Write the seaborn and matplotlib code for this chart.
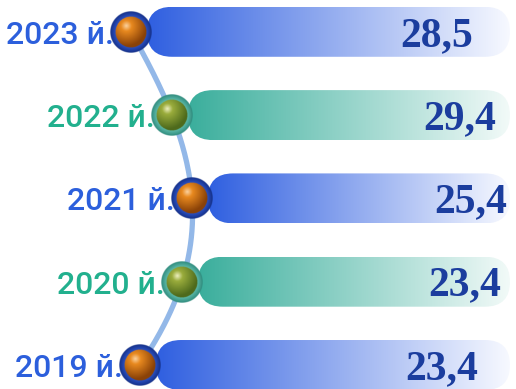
import numpy as np
import pandas as pd
import matplotlib
matplotlib.use("Agg")
import matplotlib.pyplot as plt
import matplotlib.transforms as mtransforms
from matplotlib.patches import FancyBboxPatch
from matplotlib.colors import to_rgb
import seaborn as sns

# ---- data ----
years = ["2023 й.", "2022 й.", "2021 й.", "2020 й.", "2019 й."]
values = [28.5, 29.4, 25.4, 23.4, 23.4]
value_labels = ["28,5", "29,4", "25,4", "23,4", "23,4"]
kinds = ["blue", "teal", "blue", "teal", "blue"]

# ---- layout / styles ----
node_x = [131, 172, 192, 182, 140]          # sphere centres (px)
W, H = 516, 389
PX_PER_CAT = 83.3
TOP_OFFSET = 31.8
bar_color = {"blue": "#2f5fe0", "teal": "#3aae9c"}
label_color = {"blue": "#2c5fdc", "teal": "#22b08e"}
sphere_core = {"blue": ("#fbd2a0", "#e8891f", "#8a4208"),
               "teal": ("#eef0c0", "#9aac3c", "#4e6a1c")}
ring_color = {"blue": ("#2a4fc0", "#142f86"), "teal": ("#5cb8a8", "#2e8a7c")}
value_color = "#1b3d9e"

sns.set_theme(style="white")
plt.rcParams["font.family"] = ["Roboto", "DejaVu Sans"]

fig = plt.figure(figsize=(W / 100, H / 100), dpi=100)
ax = fig.add_axes([0, 0, 1, 1])

df = pd.DataFrame({"year": years, "value": values})
sns.barplot(data=df, y="year", x="value", orient="h", width=0.6,
            color=bar_color["blue"], ax=ax)

ax.set_xlim(0, W)
ax.set_ylim((H - TOP_OFFSET) / PX_PER_CAT, -TOP_OFFSET / PX_PER_CAT)
ax.axis("off")

cat_per_px = 1.0 / PX_PER_CAT
aspect = cat_per_px

patches = list(ax.patches)
ycent = []
for i, p in enumerate(patches):
    y0, h = p.get_y(), p.get_height()
    yc = y0 + h / 2
    ycent.append(yc)
    p.set_visible(False)
    left = node_x[i] + 16
    right = W - 6
    box = FancyBboxPatch((left, y0), right - left, h,
                         boxstyle=f"round,pad=0,rounding_size={h / 2 / aspect:.3f}",
                         mutation_aspect=aspect, transform=ax.transData,
                         facecolor="none", edgecolor="none")
    ax.add_patch(box)
    c0 = np.array(to_rgb(bar_color[kinds[i]]))
    c1 = np.array(to_rgb("#f7f9ff" if kinds[i] == "blue" else "#f2faf8"))
    t = np.linspace(0, 1, 256)[None, :, None]
    grad = c0 * (1 - t) + c1 * t
    im = ax.imshow(grad, extent=(left, right, y0 + h, y0), origin="upper",
                   aspect="auto", zorder=2, interpolation="bilinear")
    im.set_clip_path(box)

ycent = np.array(ycent)

coef = np.polyfit(ycent, node_x, 4)
yy = np.linspace(ycent[0], ycent[-1], 200)
ax.plot(np.polyval(coef, yy), yy, color="#93b8e8", lw=3.8, zorder=3,
        solid_capstyle="round")


def sphere_image(kind, n=120):
    yy_, xx_ = np.mgrid[-1:1:n * 1j, -1:1:n * 1j]
    r = np.sqrt(xx_ ** 2 + yy_ ** 2)
    img = np.zeros((n, n, 4))
    ring_in = 0.74
    rl, rd = [np.array(to_rgb(c)) for c in ring_color[kind]]
    tr = np.clip((r - ring_in) / (1 - ring_in), 0, 1)[..., None]
    ring = rl * (1 - tr) + rd * tr
    hl, mid, dk = [np.array(to_rgb(c)) for c in sphere_core[kind]]
    d = np.sqrt((xx_ + 0.22) ** 2 + (yy_ + 0.3) ** 2) / ring_in
    d = np.clip(d, 0, 1.3)[..., None]
    core = np.where(d < 0.35, hl * (1 - d / 0.35) + mid * (d / 0.35),
                    mid * (1 - np.clip((d - 0.35) / 0.95, 0, 1)) +
                    dk * np.clip((d - 0.35) / 0.95, 0, 1))
    inside = (r <= ring_in)[..., None]
    img[..., :3] = np.where(inside, core, ring)
    img[..., 3] = np.clip((1 - r) * n / 2, 0, 1)
    return img


R = 21
for i in range(len(years)):
    sx, sy = node_x[i], ycent[i]
    ax.imshow(sphere_image(kinds[i]),
              extent=(sx - R, sx + R, sy + R * cat_per_px, sy - R * cat_per_px),
              origin="upper", aspect="auto", zorder=5, interpolation="bilinear")

lab_tr = mtransforms.offset_copy(ax.transData, fig=fig, x=0, y=-12, units="dots")
val_tr = mtransforms.offset_copy(ax.transData, fig=fig, x=0, y=-14, units="dots")
for i in range(len(years)):
    ax.text(node_x[i] - 17, ycent[i], years[i], ha="right", va="baseline",
            fontsize=23, fontweight=500, family=["Roboto", "DejaVu Sans"],
            color=label_color[kinds[i]], transform=lab_tr, zorder=4)
    ax.text(365 + 0.55 * node_x[i], ycent[i], value_labels[i], ha="center",
            va="baseline", fontsize=30, fontweight="bold",
            family=["Liberation Serif", "DejaVu Serif"], color=value_color,
            transform=val_tr, zorder=6)

fig.savefig("out.png", dpi=100)
